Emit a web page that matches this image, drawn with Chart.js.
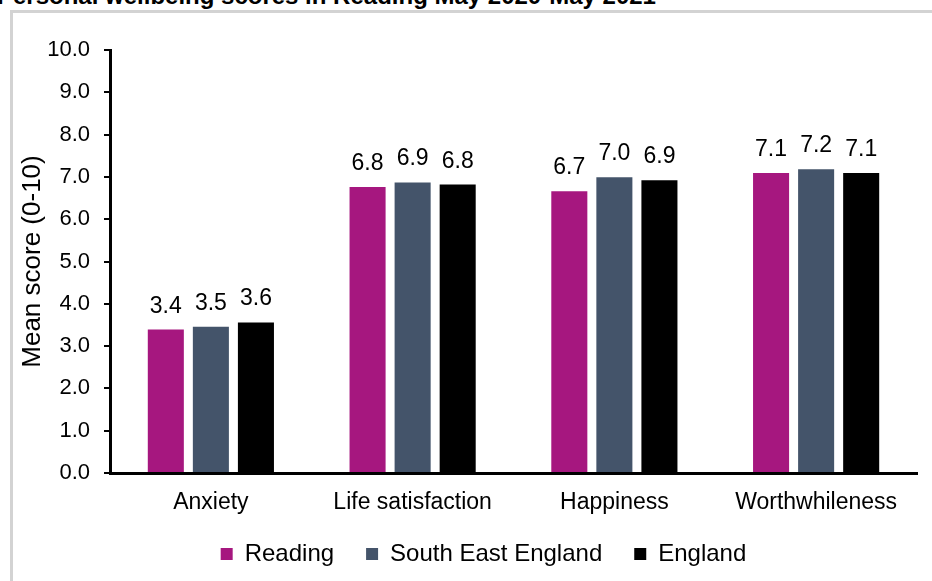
<!DOCTYPE html>
<html>
<head>
<meta charset="utf-8">
<script src="https://cdn.jsdelivr.net/npm/chart.js@4.4.1/dist/chart.umd.min.js"></script>
<style>
  html, body { margin: 0; padding: 0; background: #fff; }
  #wrap { position: relative; width: 932px; height: 581px; overflow: hidden; }
  #frame { position: absolute; left: 10px; top: 10px; right: -10px; bottom: -10px;
           border-top: 3px solid #d3d3d3; border-left: 3px solid #d3d3d3; }
  #title { position: absolute; left: -3px; top: -18px; white-space: nowrap;
           font: bold 24px "Liberation Sans", Arial, sans-serif; color: #000; }
  canvas { position: absolute; left: 0; top: 0; }
</style>
</head>
<body>
<div id="wrap">
  <div id="frame"></div>
  <div id="title">Personal wellbeing scores in Reading May 2020-May 2021</div>
  <canvas id="chart" width="932" height="581"></canvas>
</div>
<script>
const categories = ['Anxiety', 'Life satisfaction', 'Happiness', 'Worthwhileness'];
const readingScores = [3.39, 6.76, 6.66, 7.09];
const southEastScores = [3.46, 6.87, 6.99, 7.18];
const englandScores = [3.56, 6.82, 6.92, 7.09];
const yTicks = [0, 1, 2, 3, 4, 5, 6, 7, 8, 9, 10];

const FONT = '"Liberation Sans", Arial, sans-serif';

// draws the value above each bar
const valueLabels = {
    id: 'valueLabels',
    afterDatasetsDraw(chart) {
        const ctx = chart.ctx;
        ctx.save();
        ctx.font = '23px ' + FONT;
        ctx.fillStyle = '#000';
        ctx.textAlign = 'center';
        ctx.textBaseline = 'alphabetic';
        chart.data.datasets.forEach(function (ds, i) {
            chart.getDatasetMeta(i).data.forEach(function (bar, j) {
                ctx.fillText(ds.data[j].toFixed(1), bar.x, bar.y - 17);
            });
        });
        ctx.restore();
    }
};

// the legend in the original sits a little right of centre and higher
const legendShift = {
    id: 'legendShift',
    afterLayout(chart) {
        chart.legend.left += 25;
        chart.legend.right += 25;
        chart.legend.top -= 5;
        chart.legend.bottom -= 5;
    }
};

const data = {
    labels: categories,
    datasets: [
        { label: 'Reading', data: readingScores, backgroundColor: '#a6177f' },
        { label: 'South East England', data: southEastScores, backgroundColor: '#44546a' },
        { label: 'England', data: englandScores, backgroundColor: '#000000' }
    ]
};

const config = {
    type: 'bar',
    data,
    plugins: [valueLabels, legendShift],
    options: {
        responsive: false,
        animation: false,
        events: [],
        categoryPercentage: 0.67,
        barPercentage: 0.8,
        layout: { padding: { top: 50, right: 15, left: 0, bottom: 0 } },
        plugins: {
            legend: {
                position: 'bottom',
                labels: {
                    boxWidth: 12, boxHeight: 12, padding: 32,
                    color: '#000',
                    font: { family: FONT, size: 24 }
                }
            },
            tooltip: { enabled: false }
        },
        scales: {
            x: {
                grid: { display: false },
                border: { display: true, color: '#000', width: 3 },
                ticks: { color: '#000', padding: 8, font: { family: FONT, size: 23 } },
                afterFit: function (scale) { scale.height = 42; }
            },
            y: {
                min: 0, max: 10,
                afterBuildTicks: function (scale) {
                    scale.ticks = yTicks.map(function (v) { return { value: v }; });
                },
                grid: { drawOnChartArea: false, drawTicks: true, tickLength: 6, color: '#000', lineWidth: 2 },
                border: { display: true, color: '#000', width: 3 },
                ticks: {
                    color: '#000', padding: 14,
                    font: { family: FONT, size: 22 },
                    callback: function (v) { return Number(v).toFixed(1); }
                },
                title: {
                    display: true, text: 'Mean score (0-10)', color: '#000',
                    font: { family: FONT, size: 26 },
                    padding: { top: 17, bottom: 0 }
                },
                afterFit: function (scale) { scale.width = 110; }
            }
        }
    }
};

new Chart(document.getElementById('chart'), config);
</script>
</body>
</html>
